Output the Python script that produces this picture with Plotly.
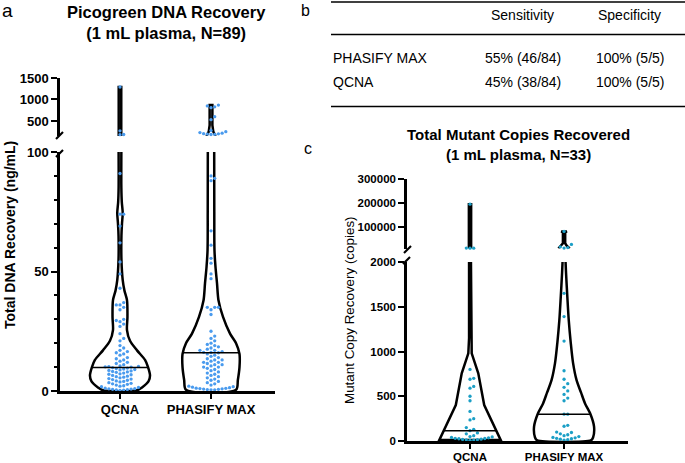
import numpy as np
import plotly.graph_objects as go

# ---------------- data ----------------
GROUPS = ["QCNA", "PHASIFY MAX"]

# Panel a: Picogreen DNA recovery (ng/mL), N=89 per group
qcna_dna = [1290, 270, 185, 180,
            91, 74, 74, 69, 62, 54, 49, 43,
            37, 36, 36, 35, 34,
            30, 29.5, 29, 28, 27,
            24, 22, 21,
            19, 18, 17, 16.5, 16, 15.5, 15,
            14, 13.5, 13, 12.5, 12, 11.5, 11, 10.5, 10.3, 10.2, 10.1, 10,
            9.8,
            9.6, 9.4, 9.2, 9, 8.8, 8.6, 8.4, 8.2, 8, 7.8,
            7.5, 7.2, 7, 6.8, 6.5, 6.2, 6, 5.8, 5.5, 5.2,
            5, 4.8, 4.5, 4.2, 4, 3.8, 3.5, 3.2, 3, 2.8,
            2.5, 2.2, 2, 1.8, 1.5, 1.2, 1, 0.9, 0.8, 0.7,
            0.6, 0.5, 0.4, 0.3]
phasify_dna = [870, 850, 830, 810, 600, 530, 280, 250, 230, 215, 205, 200, 195, 190, 185,
               90, 89, 88, 67, 61, 55.5, 53.5, 49, 47,
               35, 35, 35, 34, 32,
               25, 23, 22, 21, 20,
               19.5, 19, 18.5, 18, 17.5, 17, 17, 16.5, 16.2, 16.1,
               16.0,
               15.5, 15, 14.5, 14, 13.5, 13, 13, 12.5, 12, 12,
               11.5, 11, 11, 10.5, 10, 10, 9.5, 9, 8.5, 8,
               7.5, 7, 6.5, 6, 5.5, 5, 4.5, 4, 3.5, 3,
               2.5, 2, 1.8, 1.6, 1.4, 1.2, 1.1, 1, 0.9, 0.8,
               0.7, 0.6, 0.5, 0.5]

# Panel c: total mutant copies recovered, N=33 per group
qcna_copies = [195000, 9800, 9500, 9200,
               800, 700, 690, 610, 590, 500, 450, 330, 250, 235, 150, 130,
               115,
               90, 80, 60, 50, 45, 40, 35, 30, 28, 25, 20, 18, 15, 12, 10, 8]
phasify_copies = [80000, 25000, 15000, 12000, 10000,
                  1650, 1390, 1117, 785, 690, 640, 600, 560, 520, 480, 450,
                  300,
                  300, 175, 165, 100, 95, 80, 70, 60, 50, 40, 35, 30, 25, 20, 15, 10]

# Violin outlines: value levels and half-widths (category units)
qcna_dna_lv = [0.3, 1.5, 4, 6.5, 10, 13, 17, 21, 25.5, 31, 38, 42, 46.4, 55, 65, 70, 74.5, 79, 85, 100]
qcna_dna_lw = [0.187, 0.242, 0.313, 0.330, 0.308, 0.275, 0.187, 0.110, 0.077, 0.082, 0.077,
               0.049, 0.030, 0.016, 0.016, 0.022, 0.030, 0.020, 0.015, 0.015]
qcna_dna_hv = [150, 1290]
qcna_dna_hw = [0.014, 0.014]
phasify_dna_lv = [0.5, 4.6, 10, 15.5, 20, 24, 31, 38, 45, 52, 59, 75, 100]
phasify_dna_lw = [0.275, 0.295, 0.313, 0.313, 0.275, 0.209, 0.132, 0.082, 0.066, 0.049, 0.038, 0.036, 0.035]
phasify_dna_hv = [150, 250, 400, 870]
phasify_dna_hw = [0.05, 0.025, 0.015, 0.015]

qcna_cop_lv = [10, 402, 607, 756, 980, 1150, 2000]
qcna_cop_lw = [0.327, 0.151, 0.115, 0.088, 0.018, 0.010, 0.010]
qcna_cop_hv = [8000, 195000]
qcna_cop_hw = [0.012, 0.012]
phasify_cop_lv = [10, 40, 160, 310, 420, 540, 680, 870, 1100, 1350, 1610, 1880, 2000]
phasify_cop_lw = [0.29, 0.309, 0.319, 0.277, 0.223, 0.181, 0.133, 0.096, 0.071, 0.050, 0.035, 0.021, 0.016]
phasify_cop_hv = [8000, 20000, 30000, 76000, 80000]
phasify_cop_hw = [0.06, 0.028, 0.012, 0.012, 0.03]

dna_low_ticks = [0, 50, 100]
dna_high_ticks = [500, 1000, 1500]
cop_low_ticks = [0, 500, 1000, 1500, 2000]
cop_high_ticks = [100000, 200000, 300000]

table_cols = ["Sensitivity", "Specificity"]
table_rows = ["PHASIFY MAX", "QCNA"]
table_sens = ["55% (46/84)", "45% (38/84)"]
table_spec = ["100% (5/5)", "100% (5/5)"]

# ---------------- layout geometry (pixels) ----------------
W, H = 685, 463
FONT = "Liberation Sans, Arial, sans-serif"
DOT_A = "#4a9bee"
DOT_C = "#1c9fc6"

A_XPX, A_XR = (60, 275), (-0.659, 1.703)
C_XPX, C_XR = (407, 628), (-0.67, 1.68)
A_LOW = dict(px=(391, 152), rng=(0, 100))
A_HIGH = dict(px=(136, 78), rng=(150, 1500))
C_LOW = dict(px=(441, 262), rng=(0, 2000))
C_HIGH = dict(px=(248.5, 179.3), rng=(8000, 300000))


def px2x(p):
    return p / W


def px2y(p):
    return 1 - p / H


def dom_x(pp):
    return [px2x(pp[0]), px2x(pp[1])]


def dom_y(seg):
    return [px2y(seg["px"][0]), px2y(seg["px"][1])]


def seg_px(v, seg):
    pb, pt = seg["px"]
    r0, r1 = seg["rng"]
    return pb - (v - r0) / (r1 - r0) * (pb - pt)


def swarm(values, segs, xppu, dot=3.7):
    placed = []
    res = []
    cands = [0]
    for k in range(1, 40):
        cands += [k, -k]
    for v in sorted(values):
        si = 0 if v <= segs[0]["rng"][1] else 1
        py = seg_px(v, segs[si])
        for k in cands:
            xp = k * dot
            ok = True
            for (qx, qy) in placed:
                if abs(qy - py) < dot and (qx - xp) ** 2 + (qy - py) ** 2 < (dot * 0.97) ** 2:
                    ok = False
                    break
            if ok:
                placed.append((xp, py))
                res.append((v, xp / xppu, si))
                break
    return res


fig = go.Figure()


def add_violin(center, lv, lw, hv, hw, xa, ya_low, ya_high, shape, lwidth=2.5):
    lv = np.array(lv, float); lw = np.array(lw, float)
    xs = list(center + lw[::-1]) + list(center - lw)
    ys = list(lv[::-1]) + list(lv)
    fig.add_trace(go.Scatter(x=xs, y=ys, xaxis=xa, yaxis=ya_low, mode="lines",
                             line=dict(color="black", width=lwidth, shape=shape, smoothing=0.8),
                             hoverinfo="skip", showlegend=False))
    hv = np.array(hv, float); hw = np.array(hw, float)
    xs = list(center - hw) + list(center + hw[::-1])
    ys = list(hv) + list(hv[::-1])
    fig.add_trace(go.Scatter(x=xs, y=ys, xaxis=xa, yaxis=ya_high, mode="lines",
                             line=dict(color="black", width=lwidth),
                             hoverinfo="skip", showlegend=False))


def add_points(center, values, segs, xppu, xa, yas, color):
    sw = swarm(values, segs, xppu)
    for si in (0, 1):
        pts = [(center + dx, v) for (v, dx, s) in sw if s == si]
        if not pts:
            continue
        fig.add_trace(go.Scatter(x=[p[0] for p in pts], y=[p[1] for p in pts],
                                 xaxis=xa, yaxis=yas[si], mode="markers", cliponaxis=False,
                                 marker=dict(color=color, size=3.3, line=dict(width=0)),
                                 hoverinfo="skip", showlegend=False))


def add_median(center, values, lv, lw, xa, ya):
    med = float(np.median(values))
    hwm = float(np.interp(med, lv, lw))
    fig.add_trace(go.Scatter(x=[center - hwm, center + hwm], y=[med, med], xaxis=xa, yaxis=ya,
                             mode="lines", line=dict(color="black", width=1.5),
                             hoverinfo="skip", showlegend=False))


a_ppu = (A_XPX[1] - A_XPX[0]) / (A_XR[1] - A_XR[0])
c_ppu = (C_XPX[1] - C_XPX[0]) / (C_XR[1] - C_XR[0])

# Panel a
add_violin(0, qcna_dna_lv, qcna_dna_lw, qcna_dna_hv, qcna_dna_hw, "x", "y", "y2", "spline")
add_violin(1, phasify_dna_lv, phasify_dna_lw, phasify_dna_hv, phasify_dna_hw, "x", "y", "y2", "spline")
add_points(0, qcna_dna, [A_LOW, A_HIGH], a_ppu, "x", ["y", "y2"], DOT_A)
add_points(1, phasify_dna, [A_LOW, A_HIGH], a_ppu, "x", ["y", "y2"], DOT_A)
add_median(0, qcna_dna, qcna_dna_lv, qcna_dna_lw, "x", "y")
add_median(1, phasify_dna, phasify_dna_lv, phasify_dna_lw, "x", "y")

# Panel c
add_violin(0, qcna_cop_lv, qcna_cop_lw, qcna_cop_hv, qcna_cop_hw, "x2", "y3", "y4", "linear")
add_violin(1, phasify_cop_lv, phasify_cop_lw, phasify_cop_hv, phasify_cop_hw, "x2", "y3", "y4", "spline")
add_points(0, qcna_copies, [C_LOW, C_HIGH], c_ppu, "x2", ["y3", "y4"], DOT_C)
add_points(1, phasify_copies, [C_LOW, C_HIGH], c_ppu, "x2", ["y3", "y4"], DOT_C)
add_median(0, qcna_copies, qcna_cop_lv, qcna_cop_lw, "x2", "y3")
add_median(1, phasify_copies, phasify_cop_lv, phasify_cop_lw, "x2", "y3")


def yax(seg, ticks, anchor, fs, minor=None):
    d = dict(domain=dom_y(seg), range=list(seg["rng"]), anchor=anchor,
             tickvals=ticks, ticktext=[str(t) for t in ticks],
             showline=True, linecolor="black", linewidth=2.5,
             ticks="outside", ticklen=6, tickwidth=2.2, tickcolor="black",
             showgrid=False, zeroline=False, automargin=False,
             tickfont=dict(family=FONT, size=fs, color="black", weight="bold"))
    if minor:
        d["minor"] = dict(dtick=minor, ticks="outside", ticklen=3, tickwidth=1.5, tickcolor="black")
    return d


def xax(xpx, xr, anchor, fs, standoff):
    return dict(domain=dom_x(xpx), range=list(xr), anchor=anchor,
                tickvals=[0, 1], ticktext=GROUPS,
                showline=True, linecolor="black", linewidth=2.5,
                ticks="outside", ticklen=5, tickwidth=2.2, tickcolor="black",
                showgrid=False, zeroline=False, automargin=False,
                ticklabelstandoff=standoff,
                tickfont=dict(family=FONT, size=fs, color="black", weight="bold"))


annotations = []


def ann(text, xp, yp, size, bold=False, angle=0, xanchor="center"):
    annotations.append(dict(text=(f"<b>{text}</b>" if bold else text), x=px2x(xp), y=px2y(yp),
                            xref="paper", yref="paper", showarrow=False, textangle=angle,
                            xanchor=xanchor, yanchor="middle",
                            font=dict(family=FONT, size=size, color="black")))


ann("a", 8, 10, 19)
ann("b", 305, 10, 16)
ann("c", 308, 148, 16)
ann("Picogreen DNA Recovery<br>(1 mL plasma, N=89)", 166, 22, 16.5, bold=True)
ann("Total Mutant Copies Recovered<br>(1 mL plasma, N=33)", 518, 145, 15, bold=True)
ann("Total DNA Recovery (ng/mL)", 10, 235, 14, bold=True, angle=-90)
ann("Mutant Copy Recovery (copies)", 349, 310, 13.4, bold=False, angle=-90)

# table
for j, c in enumerate(table_cols):
    ann(c, [522.5, 629][j], 15, 14)
for i, r in enumerate(table_rows):
    yy = [58.3, 82][i]
    ann(r, 331, yy, 14, xanchor="left")
    ann(table_sens[i], 522.5, yy, 14)
    ann(table_spec[i], 629.5, yy, 14)

shapes = []
for yy in [2, 34.5, 106.5]:
    shapes.append(dict(type="line", xref="paper", yref="paper", x0=px2x(331), x1=px2x(685),
                       y0=px2y(yy), y1=px2y(yy), line=dict(color="black", width=1.5)))
# axis break marks
for (x0, y0, x1, y1) in [(56, 157, 63, 150), (56, 139, 63, 132),
                         (403, 264, 410, 257), (404, 253, 411, 246)]:
    shapes.append(dict(type="line", xref="paper", yref="paper", x0=px2x(x0), y0=px2y(y0),
                       x1=px2x(x1), y1=px2y(y1), line=dict(color="black", width=2.2)))

fig.update_layout(
    width=W, height=H, margin=dict(l=0, r=0, t=0, b=0, autoexpand=False),
    paper_bgcolor="white", plot_bgcolor="white", showlegend=False,
    xaxis=xax(A_XPX, A_XR, "y", 13, 0),
    xaxis2=xax(C_XPX, C_XR, "y3", 11.5, -2),
    yaxis=yax(A_LOW, dna_low_ticks, "x", 13, minor=10),
    yaxis2=yax(A_HIGH, dna_high_ticks, "x", 13),
    yaxis3=yax(C_LOW, cop_low_ticks, "x2", 11.5),
    yaxis4=yax(C_HIGH, cop_high_ticks, "x2", 11.5),
    annotations=annotations, shapes=shapes,
)

fig.write_html("out.html", config={"displayModeBar": False},
               post_script="document.body.style.margin='0';document.body.style.overflow='hidden';")
